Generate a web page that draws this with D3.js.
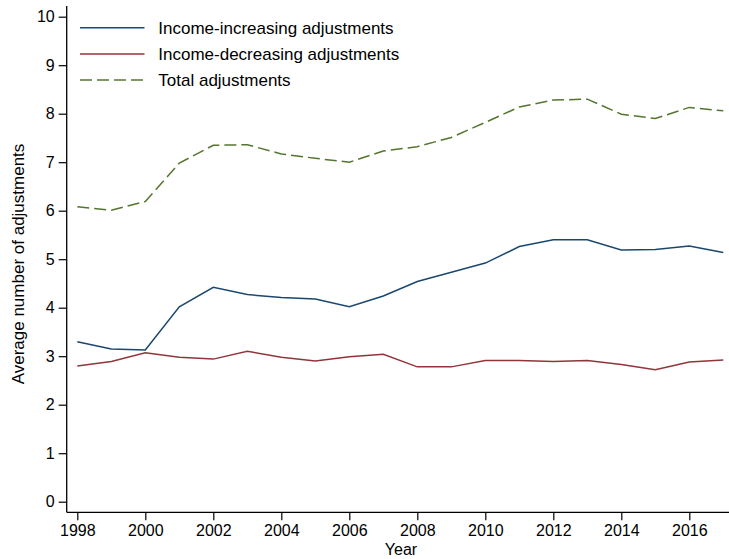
<!DOCTYPE html>
<html>
<head>
<meta charset="utf-8">
<script src="https://cdn.jsdelivr.net/npm/d3@7"></script>
<style>
  body { margin: 0; background: #fff; }
  svg { display: block; font-family: "Liberation Sans", Arial, sans-serif; }
</style>
</head>
<body>
<div id="chart"></div>
<script>
const years = d3.range(1998, 2018);
const incomeIncreasing = [3.30, 3.15, 3.13, 4.02, 4.42, 4.27, 4.21, 4.18, 4.02, 4.24,
  4.54, 4.73, 4.92, 5.26, 5.40, 5.40, 5.19, 5.20, 5.27, 5.14];
const incomeDecreasing = [2.80, 2.89, 3.07, 2.98, 2.94, 3.10, 2.98, 2.90, 2.99, 3.04,
  2.78, 2.78, 2.91, 2.91, 2.89, 2.91, 2.83, 2.72, 2.88, 2.92];
const totalAdjustments = [6.08, 6.01, 6.19, 6.98, 7.35, 7.36, 7.17, 7.08, 7.00, 7.23,
  7.32, 7.51, 7.82, 8.14, 8.28, 8.30, 7.99, 7.90, 8.13, 8.06];
const xTicks = [1998, 2000, 2002, 2004, 2006, 2008, 2010, 2012, 2014, 2016];
const yTicks = [0, 1, 2, 3, 4, 5, 6, 7, 8, 9, 10];

const series = [
  { name: 'Income-increasing adjustments', values: incomeIncreasing, color: '#1a476f', dash: null },
  { name: 'Income-decreasing adjustments', values: incomeDecreasing, color: '#90353b', dash: null },
  { name: 'Total adjustments', values: totalAdjustments, color: '#55752f', dash: '12,5' },
];

const W = 729, H = 559;
const axisX = 66.7, axisY = 512.3;

const svg = d3.select('#chart').append('svg').attr('width', W).attr('height', H);

const x = d3.scaleLinear().domain([1998, 2017]).range([77.3, 723.3]);
const y = d3.scaleLinear().domain([0, 10]).range([501.7, 16.7]);

// axes
const yAxis = svg.append('g').attr('transform', `translate(${axisX},0)`)
  .call(d3.axisLeft(y).tickValues(yTicks).tickSize(8).tickPadding(4).tickFormat(d3.format('d')));
const xAxis = svg.append('g').attr('transform', `translate(0,${axisY})`)
  .call(d3.axisBottom(x).tickValues(xTicks).tickSize(8).tickPadding(4).tickFormat(d3.format('d')));
[yAxis, xAxis].forEach(a => {
  a.select('.domain').remove();
  a.selectAll('.tick line').attr('stroke', '#000').attr('stroke-width', 1.2);
  a.selectAll('.tick text').attr('fill', '#000').style('font-size', '16px');
});

svg.append('line').attr('x1', axisX).attr('x2', axisX).attr('y1', 6).attr('y2', axisY)
  .attr('stroke', '#000').attr('stroke-width', 1.3);
svg.append('line').attr('x1', axisX).attr('x2', W).attr('y1', axisY).attr('y2', axisY)
  .attr('stroke', '#000').attr('stroke-width', 1.3);

// titles
svg.append('text').attr('transform', 'translate(24,264) rotate(-90)')
  .attr('text-anchor', 'middle').style('font-size', '17px').text('Average number of adjustments');
svg.append('text').attr('x', 401).attr('y', 555)
  .attr('text-anchor', 'middle').style('font-size', '16px').text('Year');

// lines
const line = d3.line().x((d, i) => x(years[i])).y(d => y(d));
series.forEach(s => {
  svg.append('path').datum(s.values).attr('d', line)
    .attr('fill', 'none').attr('stroke', s.color).attr('stroke-width', 1.5)
    .attr('stroke-dasharray', s.dash);
});

// legend
const legend = svg.append('g');
series.forEach((s, i) => {
  const ly = 27.7 + i * 26.2;
  legend.append('line').attr('x1', 80).attr('x2', 144.5).attr('y1', ly).attr('y2', ly)
    .attr('stroke', s.color).attr('stroke-width', 1.5).attr('stroke-dasharray', s.dash);
  legend.append('text').attr('x', 158.3).attr('y', ly + 6.3)
    .style('font-size', '17px').text(s.name);
});
</script>
</body>
</html>
